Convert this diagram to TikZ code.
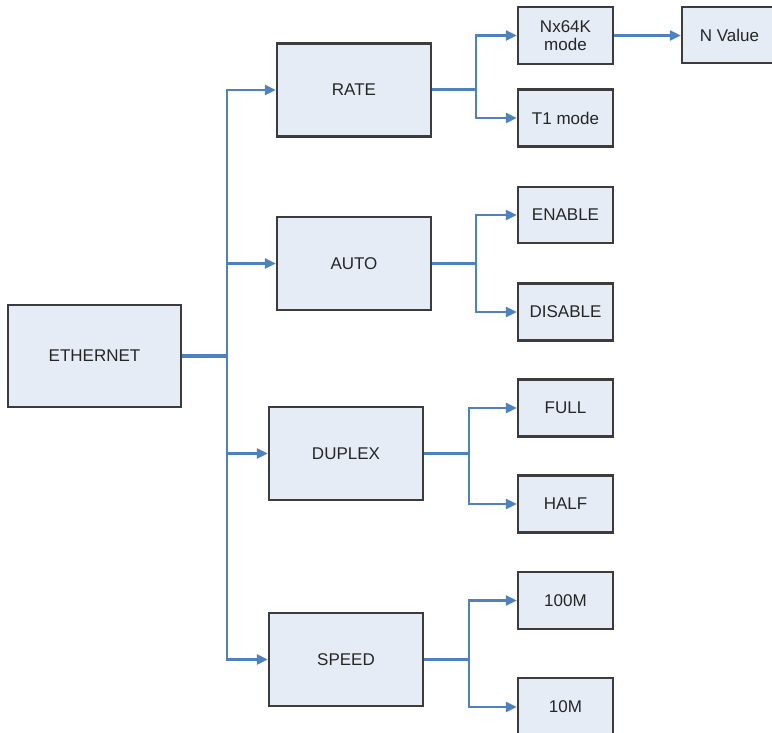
\documentclass[tikz,border=0pt]{standalone}
\usepackage{fontspec}
\setmainfont{Liberation Sans}
\usetikzlibrary{arrows.meta}
\definecolor{boxfill}{HTML}{E6ECF6}
\definecolor{boxline}{HTML}{3C3C3C}
\definecolor{conn}{HTML}{4F81BD}
\tikzset{
  blk/.style={draw=boxline, line width=2.2pt, fill=boxfill, rectangle, inner sep=0pt,
    align=center, font=\fontsize{17}{19}\selectfont, text=black!85},
  mainbox/.style={blk, minimum width=154pt, minimum height=93pt},
  leafbox/.style={blk, minimum width=95pt, minimum height=57pt},
  conline/.style={draw=conn, line width=2.4pt},
  conarrow/.style={conline, -{Triangle[length=11pt,width=10pt]}},
}
\begin{document}
\begin{tikzpicture}[x=1pt,y=-1pt]
\useasboundingbox (0,0) rectangle (772,733);
\clip (0,0) rectangle (772,733);
\fill[white] (0,0) rectangle (772,733);

% main nodes
\node[blk, minimum width=173pt, minimum height=102pt] (eth) at (94.5,356) {ETHERNET};
\node[mainbox] (rate) at (354,90) {RATE};
\node[mainbox] (auto) at (354,263.5) {AUTO};
\node[mainbox] (duplex) at (346,453.5) {DUPLEX};
\node[mainbox] (speed) at (346,659.5) {SPEED};

% leaves
\node[leafbox] (nx) at (565.5,35.5) {Nx64K\\[-1pt]mode};
\node[leafbox] (t1) at (565.5,118) {T1 mode};
\node[leafbox, minimum height=56pt] (nval) at (729.5,35) {N Value};
\node[leafbox, minimum height=56pt] (en) at (565.5,215) {ENABLE};
\node[leafbox] (dis) at (565.5,312) {DISABLE};
\node[leafbox] (full) at (565.5,408) {FULL};
\node[leafbox] (half) at (565.5,504) {HALF};
\node[leafbox] (m100) at (565.5,600.5) {100M};
\node[leafbox, minimum height=58pt] (m10) at (565.5,707) {10M};

% junction points
\coordinate (tr) at (227,356);
\coordinate (rb) at (476,90);
\coordinate (ab) at (476,263.5);
\coordinate (db) at (469,453.5);
\coordinate (sb) at (469,659.5);

% trunk from ETHERNET
\draw[conline, line width=3.2pt] (eth.east) -- (tr);
\draw[conarrow] (tr) |- (rate.west);
\draw[conarrow] (tr) |- (auto.west);
\draw[conarrow] (tr) |- (duplex.west);
\draw[conarrow] (tr) |- (speed.west);

% RATE branch
\draw[conline, line width=3pt] (rate.east) -- (rb);
\draw[conarrow] (rb) |- (nx.west);
\draw[conarrow] (rb) |- (t1.west);
\draw[conarrow] (nx.east) -- (nval.west |- nx.east);

% AUTO branch
\draw[conline, line width=2.8pt] (auto.east) -- (ab);
\draw[conarrow] (ab) |- (en.west);
\draw[conarrow] (ab) |- (dis.west);

% DUPLEX branch
\draw[conline, line width=2.8pt] (duplex.east) -- (db);
\draw[conarrow] (db) |- (full.west);
\draw[conarrow] (db) |- (half.west);

% SPEED branch
\draw[conline] (speed.east) -- (sb);
\draw[conarrow] (sb) |- (m100.west);
\draw[conarrow] (sb) |- (m10.west);
\end{tikzpicture}
\end{document}
